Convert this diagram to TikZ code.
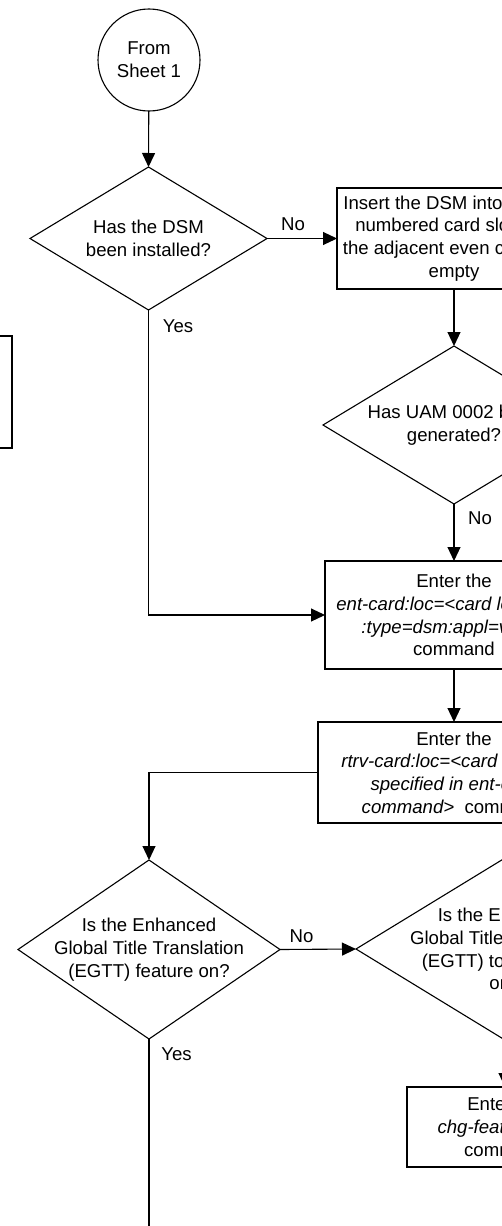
\documentclass[tikz,border=0pt]{standalone}
\usepackage{fontspec}
\setmainfont{Liberation Sans}
\usetikzlibrary{shapes.geometric,arrows.meta}
\begin{document}
\begin{tikzpicture}[x=1pt,y=-1pt,
  every node/.style={font=\fontsize{18.6}{22.7}\selectfont},
  box/.style={draw,rectangle,line width=1.1pt,inner sep=0pt,outer sep=0pt,align=center},
  decision/.style={draw,diamond,line width=1.1pt,inner sep=0pt,outer sep=0pt},
  offpage/.style={draw,circle,line width=1.1pt,inner sep=0pt,outer sep=0pt,align=center,minimum size=102pt},
  qtext/.style={align=center,inner sep=0pt},
  lbl/.style={inner sep=0pt},
  flow/.style={line width=1.1pt,-{Triangle[length=14pt,width=13pt]}},
  plain/.style={line width=1.1pt}
]
\useasboundingbox (0,0) rectangle (502,1226);
\fill[white] (0,0) rectangle (502,1226);
\clip (0,0) rectangle (502,1226);

% sheet connector
\node[offpage] (start) at (149,60) {From\\Sheet 1};

% step from the neighbouring column
\node[box,minimum width=124pt,minimum height=112pt] (prev) at (-50,392) {};

% DSM installed?
\node[decision,minimum width=237pt,minimum height=143pt] (d1) at (148.5,238.5) {};
\node[qtext] (d1t) at (d1.center) {Has the DSM\\been installed?};

% insert the DSM
\node[box,minimum width=234pt,minimum height=101pt] (insert) at (454,238.5)
  {Insert the DSM into an odd\\numbered card slot with\\the adjacent even card slot\\empty};

% UAM 0002?
\node[decision,minimum width=262pt,minimum height=158pt] (d2) at (454,425) {};
\node[qtext] (d2t) at (d2.center) {Has UAM 0002 been\\generated?};

% ent-card
\node[box,minimum width=258pt,minimum height=108pt] (entcard) at (454,615)
  {Enter the\\\textit{ent-card:loc=<card location>}\\\textit{:type=dsm:appl=vsccp}\\command};

% rtrv-card
\node[box,minimum width=272pt,minimum height=101pt] (rtrvcard) at (454,772.5)
  {Enter the\\\textit{rtrv-card:loc=<card location}\\\textit{specified in ent-card}\\\textit{command>}\ \ command};

% EGTT on?
\node[decision,minimum width=262pt,minimum height=179pt] (d3) at (149,949.5) {};
\node[qtext] (d3t) at (d3.center) {Is the Enhanced\\Global Title Translation\\(EGTT) feature on?};

% EGTT to be turned on?
\node[decision,minimum width=298pt,minimum height=182pt] (d4) at (505,949) {};
\node[qtext] (d4t) at (d4.center) {Is the Enhanced\\Global Title Translation\\(EGTT) to be turned\\on?};

% chg-feat
\node[box,minimum width=196pt,minimum height=80pt] (chgfeat) at (505,1127)
  {Enter the\\\textit{chg-feat:egtt=on}\\command};

\coordinate (down) at (149,1240);

% connectors
\draw[flow] (start) -- (d1.north);
\draw[flow] (d1.east) -- (insert.west);
\draw[flow] (insert.south) -- (d2.north);
\draw[flow] (d2.south) -- (entcard.north);
\draw[flow] (d1.south) |- (entcard.west);
\draw[flow] (entcard.south) -- (rtrvcard.north);
\draw[flow] (rtrvcard.west) -| (d3.north);
\draw[flow] (d3.east) -- (d4.west);
\draw[flow] (d4.south) -- (chgfeat.north);
\draw[plain] (d3.south) -- (down);

% branch labels
\node[lbl] (no1) at (293,224.5) {No};
\node[lbl] (yes1) at (178,326) {Yes};
\node[lbl] (no2) at (480,518) {No};
\node[lbl] (no3) at (301.5,936) {No};
\node[lbl] (yes3) at (176.5,1054) {Yes};
\end{tikzpicture}
\end{document}
